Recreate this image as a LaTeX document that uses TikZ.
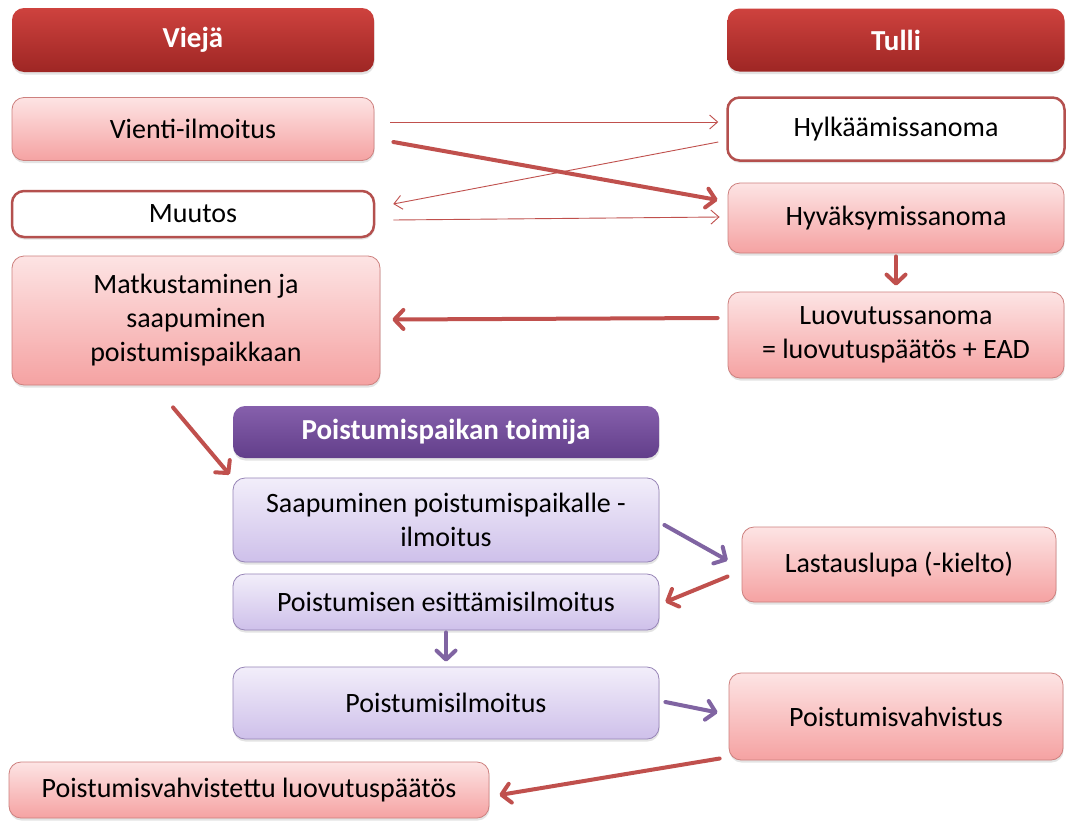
\documentclass[tikz,border=0pt]{standalone}
\usepackage{fontspec}
\setmainfont{Carlito}
\usetikzlibrary{arrows.meta,shadows,calc}
\definecolor{hdrTop}{RGB}{206,66,62}
\definecolor{hdrBot}{RGB}{158,38,36}
\definecolor{pinkTop}{RGB}{253,228,228}
\definecolor{pinkBot}{RGB}{245,162,162}
\definecolor{pinkLine}{RGB}{205,128,126}
\definecolor{boxRed}{RGB}{180,80,78}
\definecolor{purTop}{RGB}{134,96,172}
\definecolor{purBot}{RGB}{98,62,138}
\definecolor{lavTop}{RGB}{242,238,250}
\definecolor{lavBot}{RGB}{206,192,234}
\definecolor{lavLine}{RGB}{150,132,182}
\definecolor{arrRed}{RGB}{192,80,77}
\definecolor{arrPur}{RGB}{128,100,162}
\begin{document}
\begin{tikzpicture}[x=1pt,y=-1pt,
  base/.style={rectangle, rounded corners=12pt, inner sep=0pt, align=center,
    font=\fontsize{28}{34}\selectfont, text=black,
    drop shadow={opacity=0.22, shadow xshift=0.5pt, shadow yshift=-2.5pt}},
  hdrred/.style={base, top color=hdrTop, bottom color=hdrBot, draw=none, text=white,
    font=\fontsize{29}{34}\selectfont\bfseries},
  purphdr/.style={base, top color=purTop, bottom color=purBot, draw=none, text=white,
    font=\fontsize{29}{34}\selectfont\bfseries},
  pinkbox/.style={base, top color=pinkTop, bottom color=pinkBot, draw=pinkLine, line width=0.8pt},
  whitebox/.style={base, fill=white, draw=boxRed, line width=2.5pt},
  lavbox/.style={base, top color=lavTop, bottom color=lavBot, draw=lavLine, line width=0.8pt},
  thinarr/.style={draw=arrRed, line width=0.9pt, -{Straight Barb[length=8pt,width=14pt]}},
  thickarr/.style={draw=arrRed, line width=4pt, line cap=round, line join=round,
    -{Straight Barb[length=9pt,width=19pt,round]}},
  purparr/.style={thickarr, draw=arrPur}
]
\useasboundingbox[fill=white] (0,0) rectangle (1068,822);

\node[hdrred, minimum width=362, minimum height=64] (viej) at (193,40) {Viejä};
\node[hdrred, minimum width=337, minimum height=63] (tulli) at (896,40) {Tulli};
\node[pinkbox, minimum width=362, minimum height=63] (vienti) at (193,129) {Vienti-ilmoitus};
\node[whitebox, minimum width=337, minimum height=63] (hylk) at (896,129) {Hylkäämissanoma};
\node[whitebox, minimum width=362, minimum height=46] (muutos) at (193,214) {Muutos};
\node[pinkbox, minimum width=336, minimum height=70] (hyv) at (896,218) {Hyväksymissanoma};
\node[pinkbox, minimum width=368, minimum height=129] (matk) at (196,320.5) {Matkustaminen ja\\saapuminen\\poistumispaikkaan};
\node[pinkbox, minimum width=336, minimum height=86] (luov) at (896,335) {Luovutussanoma\\= luovutuspäätös + EAD};
\node[purphdr, minimum width=426, minimum height=52] (toim) at (446,432) {Poistumispaikan toimija};
\node[lavbox, minimum width=426, minimum height=84] (saap) at (446,520) {Saapuminen poistumispaikalle -\\ilmoitus};
\node[lavbox, minimum width=426, minimum height=56] (esit) at (446,602) {Poistumisen esittämisilmoitus};
\node[lavbox, minimum width=426, minimum height=72] (pilm) at (446,703) {Poistumisilmoitus};
\node[pinkbox, minimum width=314, minimum height=75] (last) at (899,564.5) {Lastauslupa (-kielto)};
\node[pinkbox, minimum width=334, minimum height=87] (pvahv) at (896,716.5) {Poistumisvahvistus};
\node[pinkbox, minimum width=480, minimum height=56] (final) at (249,790) {Poistumisvahvistettu luovutuspäätös};

\draw[thinarr] ($(vienti.east)+(16,-7)$) -- ($(hylk.west)+(-8,-7)$);
\draw[thinarr] ($(hylk.west)+(-8,13)$) -- ($(muutos.east)+(18,-10)$);
\draw[thinarr] ($(muutos.east)+(18,6)$) -- ($(hyv.west)+(-8,-1)$);
\draw[thickarr] ($(vienti.east)+(19,13)$) -- ($(hyv.west)+(-10,-18)$);
\draw[thickarr] ($(hyv.south)+(0,3)$) -- ($(luov.north)+(0,-6)$);
\draw[thickarr] ($(luov.west)+(-10,-17)$) -- ($(matk.east)+(12,-1)$);
\draw[thickarr] ($(matk.south)+(-23,22)$) -- ($(saap.north west)+(-3,-3)$);
\draw[purparr] ($(saap.east)+(5,5)$) -- ($(last.west)+(-14,-4)$);
\draw[thickarr] ($(last.west)+(-14,12)$) -- ($(esit.east)+(6,0)$);
\draw[purparr] ($(esit.south)+(0,2)$) -- ($(pilm.north)+(0,-5)$);
\draw[purparr] ($(pilm.east)+(6,-1)$) -- ($(pvahv.west)+(-11,-4)$);
\draw[thickarr] ($(pvahv.west)+(-9,42)$) -- ($(final.east)+(10,5)$);
\end{tikzpicture}
\end{document}
